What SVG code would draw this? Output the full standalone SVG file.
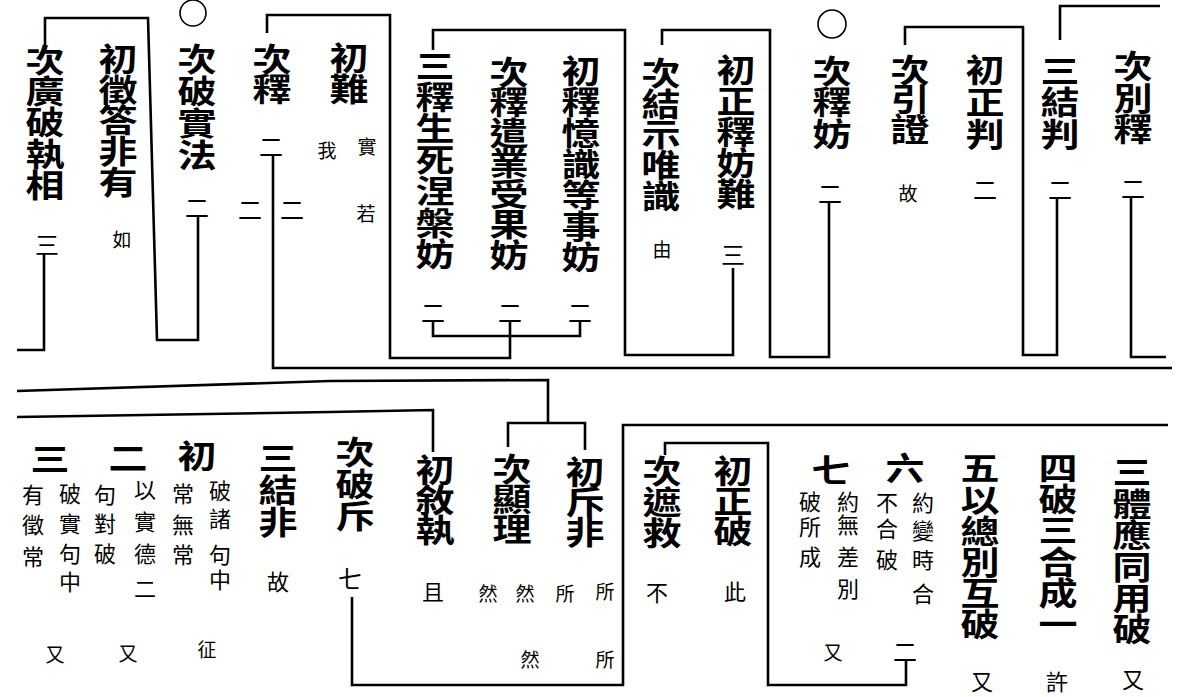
<svg xmlns="http://www.w3.org/2000/svg" width="1187" height="697" viewBox="0 0 1187 697">
<style>
text{font-family:"Noto Sans CJK TC","Noto Sans CJK SC",sans-serif;fill:#000;text-anchor:middle;dominant-baseline:central}
.big{font-size:32px;font-weight:bold}
.num{font-size:24px}
.sm{font-size:22px}
.note{font-size:19px}
#connectors path{fill:none;stroke:#000;stroke-width:2.6;stroke-linejoin:miter}
.mark{fill:none;stroke:#000;stroke-width:1.6}
</style>
<rect width="1187" height="697" fill="#fff"/>
<g id="connectors">
<path d="M45 45 V18 H148 L157 340 H198 V215"/>
<path d="M44 254 V350 H17"/>
<path d="M267 33 V15 H390 V358 H510 V336"/>
<path d="M433 320 V336 H580 V322"/>
<path d="M510 320 V336"/>
<path d="M273 154 V368 H1172"/>
<path d="M433 50 V30 H625 V355 H733 V268"/>
<path d="M662 45 V30 H770 V357 H829 V202"/>
<path d="M905 45 V27 H1023 V355 H1057 V198"/>
<path d="M1060 40 V6 H1160"/>
<path d="M1131 198 V357 H1166"/>
<path d="M17 391 L330 381 L548 380 V423"/>
<path d="M508 447 V423 H585 V450"/>
<path d="M17 417 L330 412 L433 410 V452"/>
<path d="M352 597 V685 H623 V425 H1168"/>
<path d="M665 455 V443 H768 V685 H906 V660"/>
</g>
<circle class="mark" cx="193" cy="13" r="13"/>
<circle class="mark" cx="832" cy="24" r="14"/>
<g id="n-ciguangpozhixiang"><text class="big" transform="matrix(1.22,0,0,1,-9.9,0)" x="45 45 45 45 45" y="58 89 120 152 183">次廣破執相</text><text class="num" x="47" y="243">三</text></g>
<g id="n-chuzhengdafeiyou"><text class="big" transform="matrix(1.22,0,0,1,-26,0)" x="118 118 118 118 118" y="57 88 118 149 180">初徵答非有</text><text class="note" x="122" y="238">如</text></g>
<g id="n-ciposhifa"><text class="big" transform="matrix(1.22,0,0,1,-43.3,0)" x="197 197 197 197" y="57 89 121 153">次破實法</text><text class="num" x="197" y="206">二</text></g>
<g id="n-cishi"><text class="big" transform="matrix(1.22,0,0,1,-59.8,0)" x="272 272" y="57 87">次釋</text><text class="num" x="271" y="145">二</text><text class="num" x="250" y="208">二</text><text class="num" x="292" y="208">二</text></g>
<g id="n-chunan"><text class="big" transform="matrix(1.22,0,0,1,-76.8,0)" x="349 349" y="56 87">初難</text><text class="note" x="367" y="145">實</text><text class="note" x="327" y="149">我</text><text class="note" x="366" y="212">若</text></g>
<g id="n-sanshi"><text class="big" transform="matrix(1.22,0,0,1,-95.7,0)" x="435 435 435 435 435 435 435" y="64 95 126 158 189 221 252">三釋生死涅槃妨</text><text class="num" x="433" y="311">二</text></g>
<g id="n-cishiqian"><text class="big" transform="matrix(1.22,0,0,1,-112,0)" x="509 509 509 509 509 509 509" y="70 100 131 161 192 222 253">次釋遣業受果妨</text><text class="num" x="510" y="311">二</text></g>
<g id="n-chushiyi"><text class="big" transform="matrix(1.22,0,0,1,-127.8,0)" x="581 581 581 581 581 581 581" y="69 100 131 162 193 224 255">初釋憶識等事妨</text><text class="num" x="580" y="311">二</text></g>
<g id="n-cijieshi"><text class="big" transform="matrix(1.22,0,0,1,-145.4,0)" x="661 661 661 661 661" y="71 102 132 163 194">次結示唯識</text><text class="note" x="662" y="248">由</text></g>
<g id="n-chuzhengshi"><text class="big" transform="matrix(1.22,0,0,1,-161.9,0)" x="736 736 736 736 736" y="68 99 130 161 192">初正釋妨難</text><text class="num" x="733" y="253">三</text></g>
<g id="n-cishifang"><text class="big" transform="matrix(1.22,0,0,1,-183,0)" x="832 832 832" y="69 100 132">次釋妨</text><text class="num" x="830" y="192">二</text></g>
<g id="n-ciyinzheng"><text class="big" transform="matrix(1.22,0,0,1,-200.2,0)" x="910 910 910" y="68 97 127">次引證</text><text class="note" x="908" y="192">故</text></g>
<g id="n-chuzhengpan"><text class="big" transform="matrix(1.22,0,0,1,-216.7,0)" x="985 985 985" y="68 100 132">初正判</text><text class="num" x="985" y="188">二</text></g>
<g id="n-sanjiepan"><text class="big" transform="matrix(1.22,0,0,1,-233.2,0)" x="1060 1060 1060" y="69 100 132">三結判</text><text class="num" x="1060" y="188">二</text></g>
<g id="n-cibieshi"><text class="big" transform="matrix(1.22,0,0,1,-249.3,0)" x="1133 1133 1133" y="64 96 127">次別釋</text><text class="num" x="1133" y="187">二</text></g>
<g id="n-san-poshi"><text class="big" transform="matrix(1.22,0,0,1,-11,0)" x="50" y="457">三</text><text class="sm" x="70 70 70 70" y="492 522 552 580">破實句中</text><text class="sm" x="33 33 33" y="493 523 555">有徵常</text><text class="note" x="55" y="653">又</text></g>
<g id="n-er-yishi"><text class="big" transform="matrix(1.22,0,0,1,-28.2,0)" x="128" y="456">二</text><text class="sm" x="145 145 145 145" y="488 520 552 587">以實德二</text><text class="sm" x="105 105 105" y="493 522 552">句對破</text><text class="note" x="128" y="652">又</text></g>
<g id="n-chu-pozhu"><text class="big" transform="matrix(1.22,0,0,1,-43.3,0)" x="197" y="454">初</text><text class="sm" x="220 220 220 220" y="489 517 553 578">破諸句中</text><text class="sm" x="183 183 183" y="492 523 553">常無常</text><text class="note" x="207" y="648">征</text></g>
<g id="n-sanjiefei"><text class="big" transform="matrix(1.22,0,0,1,-61.2,0)" x="278 278 278" y="456 488 520">三結非</text><text class="sm" x="278" y="580">故</text></g>
<g id="n-cipochi"><text class="big" transform="matrix(1.22,0,0,1,-78.1,0)" x="355 355 355" y="450 482 514">次破斥</text><text class="num" x="350" y="577">七</text></g>
<g id="n-chuxuzhi"><text class="big" transform="matrix(1.22,0,0,1,-95.7,0)" x="435 435 435" y="468 498 528">初敘執</text><text class="sm" x="433" y="590">且</text></g>
<g id="n-cixianli"><text class="big" transform="matrix(1.22,0,0,1,-112.6,0)" x="512 512 512" y="467 497 527">次顯理</text><text class="note" x="488" y="592">然</text><text class="note" x="525" y="592">然</text><text class="note" x="530" y="658">然</text></g>
<g id="n-chuchifei"><text class="big" transform="matrix(1.22,0,0,1,-128.7,0)" x="585 585 585" y="470 500 530">初斥非</text><text class="note" x="565" y="592">所</text><text class="note" x="605" y="590">所</text><text class="note" x="605" y="658">所</text></g>
<g id="n-cizhejiu"><text class="big" transform="matrix(1.22,0,0,1,-145.6,0)" x="662 662 662" y="469 500 531">次遮救</text><text class="sm" x="657" y="591">不</text></g>
<g id="n-chuzhengpo"><text class="big" transform="matrix(1.22,0,0,1,-161.3,0)" x="733 733 733" y="469 499 529">初正破</text><text class="sm" x="735" y="590">此</text></g>
<g id="n-qi"><text class="big" transform="matrix(1.22,0,0,1,-182.8,0)" x="831" y="468">七</text><text class="sm" x="848 848 848 848" y="500 523 555 587">約無差別</text><text class="sm" x="810 810 810" y="500 525 555">破所成</text><text class="note" x="833" y="651">又</text></g>
<g id="n-liu"><text class="big" transform="matrix(1.22,0,0,1,-199.1,0)" x="905" y="466">六</text><text class="sm" x="923 923 923 923" y="501 529 558 592">約變時合</text><text class="sm" x="887 887 887" y="501 527 558">不合破</text><text class="num" x="905" y="650">二</text></g>
<g id="n-wu"><text class="big" transform="matrix(1.22,0,0,1,-215.6,0)" x="980 980 980 980 980 980" y="466 498 529 560 591 622">五以總別互破</text><text class="sm" x="982" y="680">又</text></g>
<g id="n-si"><text class="big" transform="matrix(1.22,0,0,1,-232.8,0)" x="1058 1058 1058 1058 1058 1058" y="466 497 528 560 591 622">四破三合成一</text><text class="sm" x="1057" y="680">許</text></g>
<g id="n-santi"><text class="big" transform="matrix(1.22,0,0,1,-249,0)" x="1132 1132 1132 1132 1132 1132" y="470 502 533 565 596 627">三體應同用破</text><text class="sm" x="1133" y="678">又</text></g>
</svg>
